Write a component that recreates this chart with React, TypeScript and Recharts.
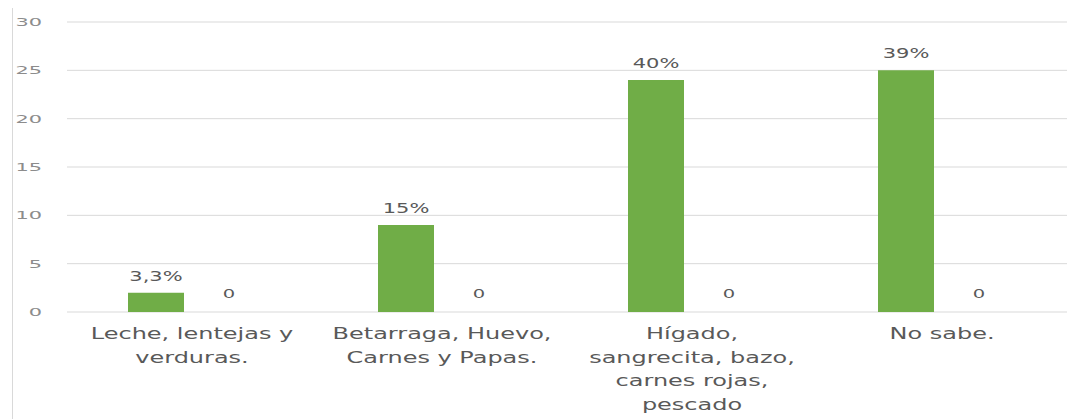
import { BarChart, Bar, XAxis, YAxis, CartesianGrid, LabelList } from 'recharts';

const categorias = [
  "Leche, lentejas y\nverduras.",
  "Betarraga, Huevo,\nCarnes y Papas.",
  "Hígado,\nsangrecita, bazo,\ncarnes rojas,\npescado",
  "No sabe.",
];
const frecuencia = [2, 9, 24, 25];
const porcentajes = ["3,3%", "15%", "40%", "39%"];
const serie2 = [0, 0, 0, 0];
const yTicks = [0, 5, 10, 15, 20, 25, 30];

const data = categorias.map((c, i) => ({
  name: c,
  valor: frecuencia[i],
  pct: porcentajes[i],
  serie2: serie2[i],
}));

const FONT = '"DejaVu Sans", Verdana, sans-serif';
const STRETCH = 1.5;

const XTick = ({ x, y, payload }: any) => {
  const lines = String(payload.value).split("\n");
  return (
    <g transform={`translate(${x},${y})`}>
      {lines.map((l, i) => (
        <text key={i} transform={`translate(0,${19 + i * 23.5}) scale(${STRETCH},1)`} textAnchor="middle"
          fontFamily={FONT} fontSize={16} fill="#595959">{l}</text>
      ))}
    </g>
  );
};

const YTick = ({ x, y, payload }: any) => (
  <text transform={`translate(${x},${y + 4}) scale(1.9,1)`} textAnchor="end"
    fontFamily={FONT} fontSize={11} fill="#8c8c8c">{payload.value}</text>
);

const pctLabel = (props: any) => {
  const { x, y, width, index } = props;
  return (
    <text transform={`translate(${x + width / 2},${y - 12}) scale(${STRETCH},1)`} textAnchor="middle"
      fontFamily={FONT} fontSize={14} fill="#595959">{porcentajes[index]}</text>
  );
};

const zeroLabel = (props: any) => {
  const { x, y, width, height, index } = props;
  return (
    <text transform={`translate(${x + width / 2},${y + height - 14}) scale(${STRETCH},1)`} textAnchor="middle"
      fontFamily={FONT} fontSize={13} fill="#595959">{String(serie2[index])}</text>
  );
};

export default function App() {
  return (
    <div style={{ position: 'absolute', left: 0, top: 0, width: 1067, height: 419, background: '#fff' }}>
      <div style={{ position: 'absolute', left: 12, top: 8, width: 1, height: 411, background: '#d9d9d9' }} />
      <BarChart width={1067} height={419} data={data} margin={{ top: 22, right: 0, left: 0, bottom: 0 }}
        barSize={56} barGap={17}>
        <CartesianGrid vertical={false} stroke="#d9d9d9" />
        <XAxis dataKey="name" height={107} axisLine={false} tickLine={false} interval={0} tick={<XTick />} />
        <YAxis width={67} domain={[0, 30]} ticks={yTicks} axisLine={false} tickLine={false}
          tickSize={0} tickMargin={25} tick={<YTick />} />
        <Bar dataKey="valor" name="Serie 1" fill="#70AD47" isAnimationActive={false}>
          <LabelList dataKey="pct" content={pctLabel} />
        </Bar>
        <Bar dataKey="serie2" name="Serie 2" fill="transparent" minPointSize={1} isAnimationActive={false}>
          <LabelList dataKey="serie2" content={zeroLabel} />
        </Bar>
      </BarChart>
    </div>
  );
}
